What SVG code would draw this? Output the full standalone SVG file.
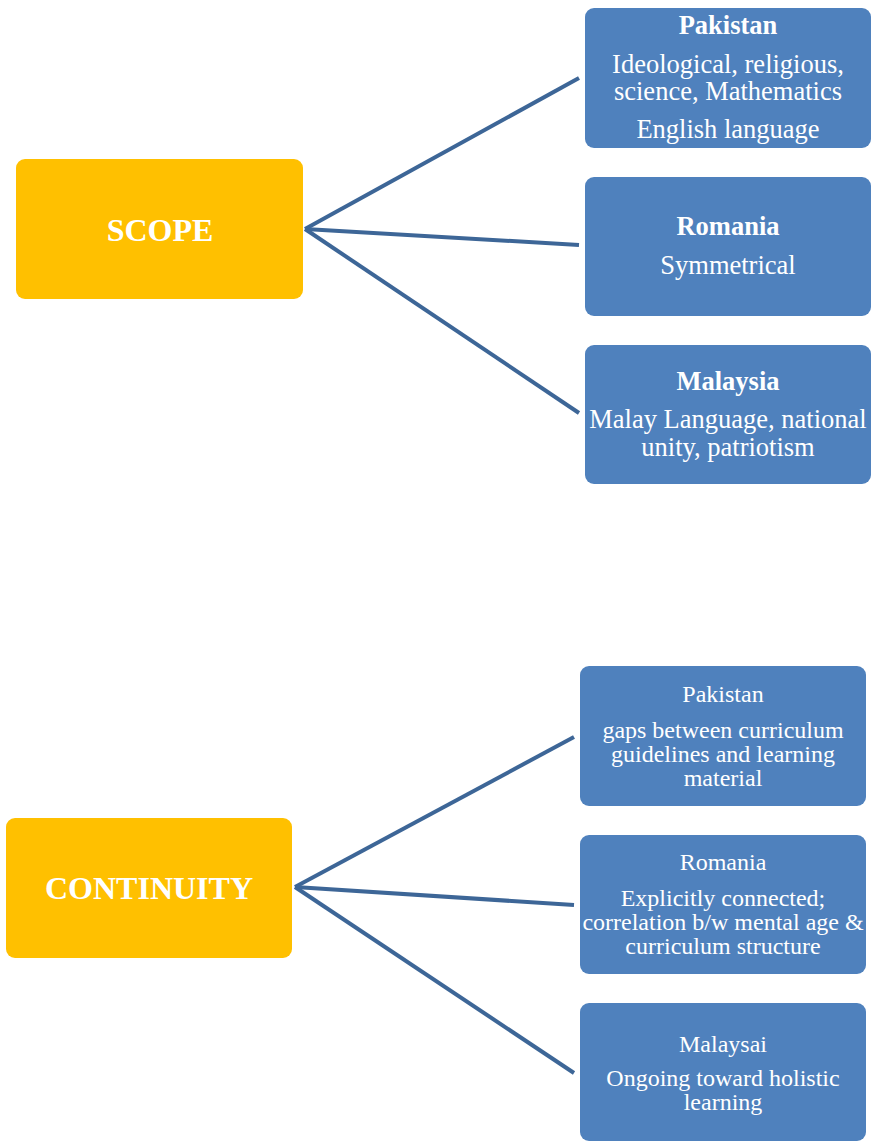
<svg xmlns="http://www.w3.org/2000/svg" width="871" height="1142" viewBox="0 0 871 1142">
  <style>
    .hub { fill: #FFC000; }
    .leaf { fill: #4F81BD; }
    .hubtxt { font-family: "Liberation Serif", "Times New Roman", serif; font-weight: bold; font-size: 32px; fill: #FFFFFF; text-anchor: middle; }
    .t { font-family: "Liberation Serif", "Times New Roman", serif; fill: #FFFFFF; text-anchor: middle; }
    .big { font-size: 26.5px; }
    .small { font-size: 24px; }
    .b { font-weight: bold; }
    .link { stroke: #3D6697; stroke-width: 4; fill: none; stroke-linecap: butt; }
  </style>

  <rect width="871" height="1142" fill="#FFFFFF"/>

  <!-- connectors -->
  <g id="connectors">
    <line class="link" x1="305" y1="229" x2="579" y2="78"/>
    <line class="link" x1="305" y1="229" x2="579" y2="245"/>
    <line class="link" x1="305" y1="229" x2="579" y2="413"/>
    <line class="link" x1="295" y1="887" x2="574" y2="737"/>
    <line class="link" x1="295" y1="887" x2="574" y2="905"/>
    <line class="link" x1="295" y1="887" x2="574" y2="1073"/>
  </g>

  <!-- scope group -->
  <g id="scope">
    <rect class="hub" x="16" y="159" width="287" height="140" rx="9"/>
    <text class="hubtxt" x="160" y="241">SCOPE</text>
  </g>

  <g id="scope-pakistan">
    <rect class="leaf" x="585" y="8" width="286" height="140" rx="9"/>
    <text class="t big b" x="728" y="34">Pakistan</text>
    <text class="t big" x="728" y="73">Ideological, religious,</text>
    <text class="t big" x="728" y="100">science, Mathematics</text>
    <text class="t big" x="728" y="138">English language</text>
  </g>

  <g id="scope-romania">
    <rect class="leaf" x="585" y="177" width="286" height="139" rx="9"/>
    <text class="t big b" x="728" y="235">Romania</text>
    <text class="t big" x="728" y="274">Symmetrical</text>
  </g>

  <g id="scope-malaysia">
    <rect class="leaf" x="585" y="345" width="286" height="139" rx="9"/>
    <text class="t big b" x="728" y="390">Malaysia</text>
    <text class="t big" x="728" y="428">Malay Language, national</text>
    <text class="t big" x="728" y="456">unity, patriotism</text>
  </g>

  <!-- continuity group -->
  <g id="continuity">
    <rect class="hub" x="6" y="818" width="286" height="140" rx="9"/>
    <text class="hubtxt" x="149" y="899">CONTINUITY</text>
  </g>

  <g id="continuity-pakistan">
    <rect class="leaf" x="580" y="666" width="286" height="140" rx="9"/>
    <text class="t small" x="723" y="702">Pakistan</text>
    <text class="t small" x="723" y="738">gaps between curriculum</text>
    <text class="t small" x="723" y="762">guidelines and learning</text>
    <text class="t small" x="723" y="786">material</text>
  </g>

  <g id="continuity-romania">
    <rect class="leaf" x="580" y="835" width="286" height="139" rx="9"/>
    <text class="t small" x="723" y="870">Romania</text>
    <text class="t small" x="723" y="906">Explicitly connected;</text>
    <text class="t small" x="723" y="930">correlation b/w mental age &amp;</text>
    <text class="t small" x="723" y="954">curriculum structure</text>
  </g>

  <g id="continuity-malaysai">
    <rect class="leaf" x="580" y="1003" width="286" height="138" rx="9"/>
    <text class="t small" x="723" y="1052">Malaysai</text>
    <text class="t small" x="723" y="1086">Ongoing toward holistic</text>
    <text class="t small" x="723" y="1110">learning</text>
  </g>
</svg>
